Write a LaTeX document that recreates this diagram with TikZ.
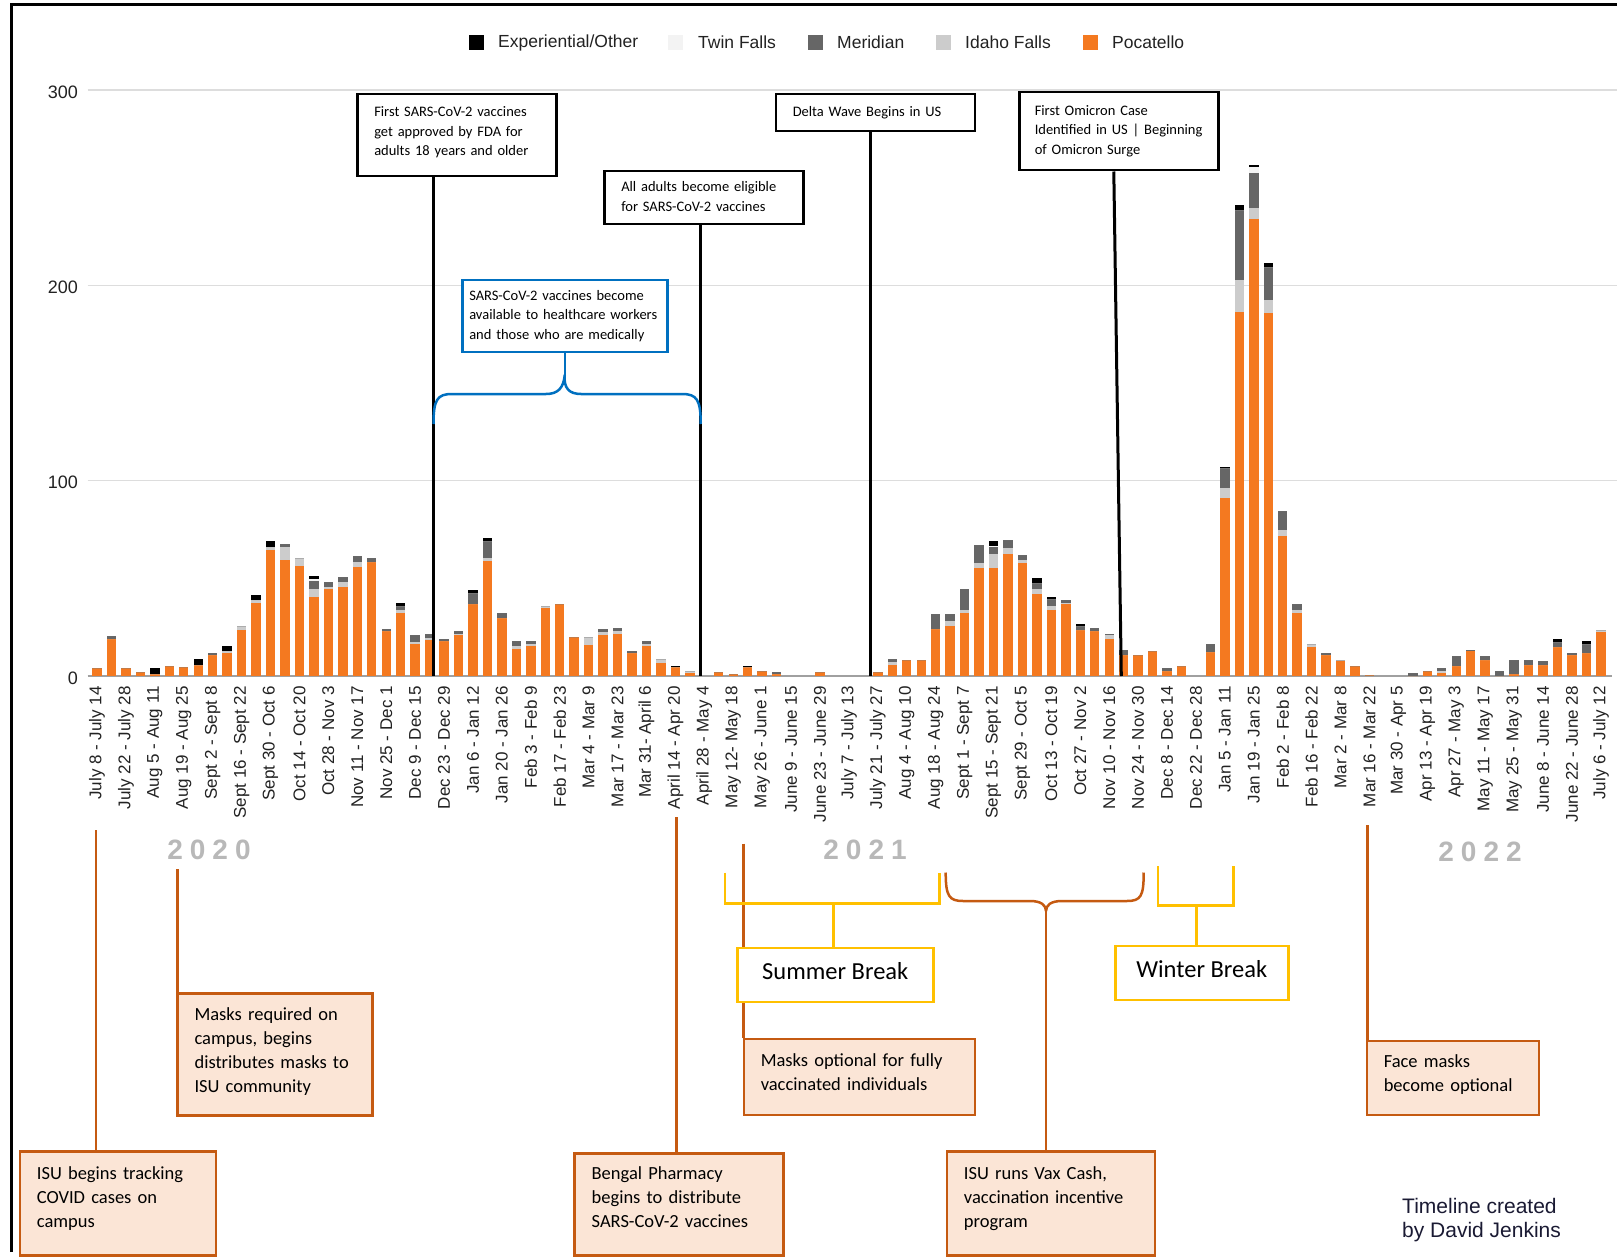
\documentclass[tikz,border=0pt]{standalone}
\usepackage{fontspec}
\setmainfont{Liberation Sans}
\newfontfamily\calfont{Carlito}
\newfontfamily\yearfont[LetterSpace=25]{Liberation Sans Bold}
\definecolor{poca}{HTML}{F47920}
\definecolor{idaho}{HTML}{CCCCCC}
\definecolor{meri}{HTML}{666666}
\definecolor{twin}{HTML}{F3F3F3}
\definecolor{expo}{HTML}{000000}
\definecolor{gridc}{HTML}{DDDDDD}
\definecolor{axisc}{HTML}{A0A0A0}
\definecolor{labc}{HTML}{222222}
\definecolor{ocol}{HTML}{C55A11}
\definecolor{peach}{HTML}{FBE5D6}
\definecolor{bluec}{HTML}{0070C0}
\definecolor{yel}{HTML}{FFC000}
\definecolor{yearc}{HTML}{B8B8B8}
\definecolor{credc}{HTML}{1A1A33}
\begin{document}
\begin{tikzpicture}[x=1pt,y=-1pt,
  nohyph/.style={execute at begin node={\hyphenpenalty=10000\exhyphenpenalty=10000}},
  raisetext/.style={execute at end node={\endgraf\kern#1\relax}},
  gridline/.style={draw=gridc,line width=1.5pt},
  axisline/.style={draw=axisc,line width=2pt},
  ylab/.style={anchor=east,inner sep=0pt,text=labc,font=\fontsize{18}{20}\selectfont},
  xlab/.style={rotate=90,anchor=east,inner sep=0pt,text=labc,font=\fontsize{17}{19}\selectfont},
  legsq/.style={minimum size=15pt,inner sep=0pt,anchor=center},
  legtext/.style={anchor=west,inner sep=0pt,text=labc,font=\fontsize{17.5}{20}\selectfont},
  topbox/.style={draw=black,line width=2.5pt,fill=white,anchor=north west,inner xsep=17pt,inner ysep=0pt,align=left,text width=#1,nohyph,font=\calfont\fontsize{14.5}{19.6}\selectfont},
  bluebox/.style={draw=bluec,line width=2.5pt,fill=white,anchor=north west,inner xsep=7pt,inner ysep=0pt,align=left,text width=#1,nohyph,font=\calfont\fontsize{14.5}{19.6}\selectfont},
  botbox/.style={draw=ocol,line width=2.5pt,fill=peach,anchor=north west,inner xsep=17pt,inner ysep=0pt,align=left,text width=#1,nohyph,font=\calfont\fontsize{18.5}{24}\selectfont},
  breakbox/.style={draw=yel,line width=2.5pt,fill=white,anchor=north west,inner sep=0pt,align=center,minimum width=#1,font=\calfont\fontsize{24.5}{28}\selectfont},
  vline/.style={draw=black,line width=3pt},
  oline/.style={draw=ocol,line width=2.5pt},
  bline/.style={draw=bluec,line width=2.5pt,line join=round},
  yline/.style={draw=yel,line width=2.5pt},
  yearlab/.style={text=yearc,inner sep=0pt,font=\yearfont\fontsize{28}{30}\selectfont},
  credit/.style={anchor=north west,inner sep=0pt,align=left,text=credc,font=\fontsize{21}{24}\selectfont}
]
\useasboundingbox (0,0) rectangle (1617,1260);
\fill[white] (0,0) rectangle (1617,1260);
% outer frame
\draw[line width=3pt] (11.3,1252) -- (11.3,5) -- (1617,5);

% grid and y labels
\foreach \v in {100,200,300}{
  \pgfmathsetmacro\yy{676-1.953*\v}
  \draw[gridline] (87.5,\yy) -- (1617,\yy);
  \node[ylab] (y\v) at (78,\yy+2) {\v};
}
\node[ylab] (y0) at (78,678) {0};
\draw[axisline] (87.5,676) -- (1612,676);

% bars: index / Pocatello / Idaho Falls / Meridian / Twin Falls / Experiential
\foreach \i/\o/\l/\d/\t/\b in {
0/4/0/0/0/0, 1/19/0/1.4/0/0, 2/4/0/0/0/0, 3/2/0/0/0/0, 4/1/0/0/0/3,
5/5/0/0/0/0, 6/4.5/0/0/0/0, 7/5.5/0/0/0/3, 8/10.6/0/1.4/0/0, 9/12/0.8/0/0/2.4,
10/23.7/2.1/0/0/0, 11/37.5/1.2/0/0/2.8, 12/64.3/2/0/0/2.6, 13/59.4/6.6/1.4/0/0, 14/56.3/4.3/0/0/0,
15/40.3/4.1/4.1/1.2/1.7, 16/44.7/0.9/2.7/0/0, 17/45.6/2.4/2.5/0/0, 18/55.6/2.9/3.1/0/0, 19/58.5/0/2.1/0/0,
20/23/0/1.1/0/0, 21/32.3/1.3/2/0/2, 22/16.6/0.8/3.4/0/0, 23/18.6/1/1.9/0/0, 24/17.9/0/0.9/0/0,
25/20.8/0.9/1.3/0/0, 26/37/0/5.5/0/1.7, 27/58.7/1.7/8.7/0/1.7, 28/29.5/0/2.8/0/0, 29/13.8/1.6/2.3/0/0,
30/15.2/1/1.7/0/0, 31/34.8/0.9/0/0/0, 32/36.7/0/0/0/0, 33/20/0/0/0/0, 34/15.7/4.3/0/0/0,
35/20.8/1.7/1.6/0/0, 36/21.7/1.3/1.6/0/0, 37/12/0/0.6/0/0, 38/15.4/1.2/1.3/0/0, 39/6.7/2/0/0/0,
40/4.6/0/0/0/0.7, 41/1.7/0.9/0/0/0, 43/2/0/0/0/0, 44/0.8/0/0/0/0, 45/4.6/0/0/0/0.5,
46/2.4/0/0/0/0, 47/0.9/0/1.1/0/0, 50/2/0/0/0/0, 54/2/0/0/0/0, 55/5.5/1.7/1.7/0/0,
56/8/0/0/0/0, 57/8/0/0/0/0, 58/24.2/0/7.4/0/0, 59/25.8/2.2/3.6/0/0, 60/32.3/1.7/10.7/0/0,
61/55.5/2.3/9.4/0/0, 62/55.5/7.1/3.4/0.6/2.6, 63/62.6/3.1/4.1/0/0, 64/57.8/1.4/2.6/0/0, 65/41.8/2.9/2.9/0/2.7,
66/34/2/3.6/0/0.8, 67/36.7/0.8/1.5/0/0, 68/23.7/0/1.7/0/1.1, 69/22.9/0/1.8/0/0, 70/18.8/2/0.9/0/0,
71/10.6/0/2.9/0/0, 72/10.6/0/0/0/0, 73/12.8/0/0/0/0, 74/2.4/0/1.7/0/0, 75/5.1/0/0/0/0,
77/12.5/0/3.9/0/0, 78/91/5.3/10.2/0/0.7, 79/186.4/16.4/35.8/0/2.6, 80/233.8/5.6/18.2/2.9/1.1, 81/185.7/6.8/17.1/0/2.1,
82/71.7/3/9.9/0/0, 83/32.3/1.3/3.1/0/0, 84/14.8/1.8/0/0/0, 85/10.6/0/1.2/0/0, 86/7.7/0.7/0/0/0,
87/4.9/0/0/0/0, 88/0.7/0/0/0/0, 91/0/0/1.5/0/0, 92/2.4/0/0/0/0, 93/1.7/0.9/1.3/0/0,
94/4.9/0/5.5/0/0, 95/13.1/0/0.4/0/0, 96/8.4/0/2/0/0, 97/0/0/2.6/0/0, 98/0.9/0/7.5/0/0,
99/5.5/0/2.9/0/0, 100/5.5/0/2.2/0/0, 101/14.8/0/2.6/0/1.4, 102/10.6/0/1.2/0/0, 103/12/0/4.2/0/1.7,
104/22.5/1.2/0/0/0}{
  \pgfmathsetmacro\xa{97+14.46*\i-4.7}
  \pgfmathsetmacro\xb{97+14.46*\i+4.7}
  \pgfmathsetmacro\ya{676-1.953*\o}
  \pgfmathsetmacro\yb{\ya-1.953*\l}
  \pgfmathsetmacro\yc{\yb-1.953*\d}
  \pgfmathsetmacro\yd{\yc-1.953*\t}
  \pgfmathsetmacro\ye{\yd-1.953*\b}
  \fill[poca] (\xa,676) rectangle (\xb,\ya);
  \fill[idaho] (\xa,\ya) rectangle (\xb,\yb);
  \fill[meri] (\xa,\yb) rectangle (\xb,\yc);
  \fill[twin] (\xa,\yc) rectangle (\xb,\yd);
  \fill[expo] (\xa,\yd) rectangle (\xb,\ye);
}

% x labels
\foreach \k/\lab in {0/July 8 - July 14, 1/July 22 - July 28, 2/Aug 5 - Aug 11, 3/Aug 19 - Aug 25,
 4/Sept 2 - Sept 8, 5/Sept 16 - Sept 22, 6/Sept 30 - Oct 6, 7/Oct 14 - Oct 20, 8/Oct 28 - Nov 3,
 9/Nov 11 - Nov 17, 10/Nov 25 - Dec 1, 11/Dec 9 - Dec 15, 12/Dec 23 - Dec 29, 13/Jan 6 - Jan 12,
 14/Jan 20 - Jan 26, 15/Feb 3 - Feb 9, 16/Feb 17 - Feb 23, 17/Mar 4 - Mar 9, 18/Mar 17 - Mar 23,
 19/Mar 31- April 6, 20/April 14 - Apr 20, 21/April 28 - May 4, 22/May 12- May 18, 23/May 26 - June 1,
 24/June 9 - June 15, 25/June 23 - June 29, 26/July 7 - July 13, 27/July 21 - July 27, 28/Aug 4 - Aug 10,
 29/Aug 18 - Aug 24, 30/Sept 1 - Sept 7, 31/Sept 15 - Sept 21, 32/Sept 29 - Oct 5, 33/Oct 13 - Oct 19,
 34/Oct 27 - Nov 2, 35/Nov 10 - Nov 16, 36/Nov 24 - Nov 30, 37/Dec 8 - Dec 14, 38/Dec 22 - Dec 28,
 39/Jan 5 - Jan 11, 40/Jan 19 - Jan 25, 41/Feb 2 - Feb 8, 42/Feb 16 - Feb 22, 43/Mar 2 - Mar 8,
 44/Mar 16 - Mar 22, 45/Mar 30 - Apr 5, 46/Apr 13 - Apr 19, 47/Apr 27 - May 3, 48/May 11 - May 17,
 49/May 25 - May 31, 50/June 8 - June 14, 51/June 22 - June 28, 52/July 6 - July 12}{
  \pgfmathsetmacro\xx{97+28.92*\k}
  \node[xlab] (lab\k) at (\xx,686) {\lab};
}

% legend
\node[legsq,fill=expo] (lg1) at (476,42.5) {};
\node[legtext] (lt1) at (498,42.5) {Experiential/Other};
\node[legsq,fill=twin] (lg2) at (675.5,42.5) {};
\node[legtext] (lt2) at (698,42.5) {Twin Falls};
\node[legsq,fill=meri] (lg3) at (815,42.5) {};
\node[legtext] (lt3) at (837,42.5) {Meridian};
\node[legsq,fill=idaho] (lg4) at (943,42.5) {};
\node[legtext] (lt4) at (965,42.5) {Idaho Falls};
\node[legsq,fill=poca] (lg5) at (1090,42.5) {};
\node[legtext] (lt5) at (1112,42.5) {Pocatello};

% axis anchor points for event lines
\coordinate (ax1) at (433.5,676);
\coordinate (ax2) at (700.7,676);
\coordinate (ax3) at (870,676);
\coordinate (ax4) at (1121.3,676);

% top event boxes
\node[topbox=165pt,raisetext=6pt,minimum height=82pt] (t1) at (356,93) {First SARS-CoV-2 vaccines\\get approved by FDA for\\adults 18 years and older};
\node[topbox=165pt,raisetext=2pt,minimum height=53pt] (t2) at (603,170) {All adults become eligible\\for SARS-CoV-2 vaccines};
\node[topbox=165pt,minimum height=37pt] (t3) at (774.5,93) {Delta Wave Begins in US};
\node[topbox=168pt,inner xsep=15.5pt,minimum height=78pt] (t4) at (1018,91) {First Omicron Case\\Identified in US | Beginning\\of Omicron Surge};

\draw[vline] (t1.south -| ax1) -- (ax1);
\draw[vline] (t2.south -| ax2) -- (ax2);
\draw[vline] (t3.south -| ax3) -- (ax3);
\draw[vline] (1113.8,0 |- t4.south) -- (ax4);

% blue box and brace
\node[bluebox=191pt,minimum height=72pt] (bl) at (461,278.5) {SARS-CoV-2 vaccines become\\available to healthcare workers\\and those who are medically};
\coordinate (brL) at (433.5,424);
\coordinate (brR) at (700.7,424);
\coordinate (brT) at ([yshift=-22pt]bl.south);
\draw[bline] (brL) .. controls (433.5,400) and (437,394) .. (452,394) -- (546,394)
  .. controls (558,394) and (563.5,388) .. (brT)
  .. controls (563.5,388) and (569,394) .. (581,394) -- (682,394)
  .. controls (697,394) and (700.7,400) .. (brR);
\draw[bline] (brT) -- (bl.south);

% year labels
\node[yearlab] (yr20) at (209,850) {2020};
\node[yearlab] (yr21) at (865,850) {2021};
\node[yearlab] (yr22) at (1480,852) {2022};

% bottom boxes
\node[botbox=162pt,raisetext=10pt,minimum height=104pt] (b1) at (18.6,1150) {ISU begins tracking\\COVID cases on\\campus};
\node[botbox=161pt,raisetext=6pt,minimum height=122pt] (b2) at (176.3,992) {Masks required on\\campus, begins\\distributes masks to\\ISU community};
\node[botbox=175pt,raisetext=14pt,minimum height=102pt] (b3) at (573.4,1152) {Bengal Pharmacy\\begins to distribute\\SARS-CoV-2 vaccines};
\node[botbox=197pt,raisetext=10pt,minimum height=76pt] (b4) at (742.5,1037.5) {Masks optional for fully\\vaccinated individuals};
\node[botbox=138pt,raisetext=6pt,minimum height=74pt] (b5) at (1365.5,1039.5) {Face masks\\become optional};
\node[botbox=174pt,raisetext=10pt,minimum height=104pt] (b6) at (945.7,1150) {ISU runs Vax Cash,\\vaccination incentive\\program};

\coordinate (oa) at (96,830);
\coordinate (ob) at (177.5,869);
\coordinate (oc) at (676.5,817);
\coordinate (od) at (743.5,843.6);
\coordinate (oe) at (1367.5,825);
\draw[oline] (oa) -- (oa |- b1.north);
\draw[oline] (ob) -- (ob |- b2.north);
\draw[oline] (oc) -- (oc |- b3.north);
\draw[oline] (od) -- (od |- b4.north);
\draw[oline] (oe) -- (oe |- b5.north);

% vax cash brace
\coordinate (vL) at (945.7,872.5);
\coordinate (vR) at (1143.7,872.5);
\coordinate (vT) at (1046,911);
\draw[oline,line join=round] (vL) .. controls (945.7,896) and (949,901) .. (963,901) -- (1030,901)
  .. controls (1041,901) and (1046,905) .. (vT)
  .. controls (1046,905) and (1051,901) .. (1062,901) -- (1127,901)
  .. controls (1141,901) and (1143.7,896) .. (vR);
\draw[oline] (vT) -- (vT |- b6.north);

% break boxes and brackets
\node[breakbox=196pt,minimum height=54pt,text depth=8pt] (sb) at (736,946.7) {Summer Break};
\node[breakbox=173pt,minimum height=54pt,text depth=8pt] (wb) at (1114,944.7) {Winter Break};
\coordinate (sL) at (725,872.5);
\coordinate (sR) at (939.5,872.5);
\coordinate (sS) at (833.3,903.4);
\draw[yline] (sL) -- (725,903.4) -- (939.5,903.4) -- (sR);
\draw[yline] (sS) -- (sS |- sb.north);
\coordinate (wL) at (1158,866.3);
\coordinate (wR) at (1233.4,866.3);
\coordinate (wS) at (1196.3,905.5);
\draw[yline] (wL) -- (1158,905.5) -- (1233.4,905.5) -- (wR);
\draw[yline] (wS) -- (wS |- wb.north);

% credit
\node[credit] (cr) at (1402,1198) {Timeline created\\by David Jenkins};
\end{tikzpicture}
\end{document}
